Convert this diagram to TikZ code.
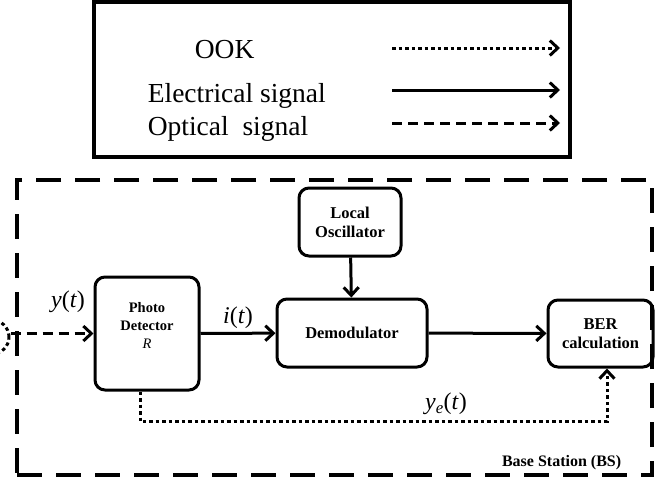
\documentclass[tikz,border=0pt]{standalone}
\usepackage{fontspec}
\setmainfont{Liberation Serif}
\usetikzlibrary{arrows.meta}

\begin{document}
\begin{tikzpicture}[x=1pt, y=-1pt, line width=3pt, >={Straight Barb[length=8pt,width=15pt,line width=3pt]},
  blk/.style={draw, rounded corners=10pt, align=center, inner sep=0pt, font=\bfseries\fontsize{16.5}{19}\selectfont},
  sig/.style={font=\fontsize{24}{26}\selectfont},
  ook/.style={dash pattern=on 3.5pt off 3pt},
  opt/.style={dash pattern=on 10pt off 6pt}]
  \useasboundingbox (0,0) rectangle (667,483);

  % legend
  \node[draw, line width=3.5pt, minimum width=476, minimum height=155] (legend) at (332, 79.5) {};
  \node[anchor=base west, font=\fontsize{27.5}{30}\selectfont] (ooktxt) at (190, 58) {OOK};
  \node[anchor=base west, font=\fontsize{27.5}{30}\selectfont] (eltxt)  at (143, 102) {Electrical signal};
  \node[anchor=base west, font=\fontsize{27.5}{30}\selectfont] (opttxt) at (143, 135) {Optical~ signal};
  \coordinate (ooks) at (392, 48);  \coordinate (ooke) at (560, 48);
  \coordinate (els)  at (392, 90);  \coordinate (ele)  at (560, 90);
  \coordinate (opts) at (392, 123); \coordinate (opte) at (560, 123);
  \draw[->, ook] (ooks) -- (ooke);
  \draw[->] (els) -- (ele);
  \draw[->, opt] (opts) -- (opte);

  % base station
  \node[draw, line width=4pt, dash pattern=on 25pt off 14pt, minimum width=635, minimum height=295] (bs) at (334.5, 327.5) {};
  \node[anchor=base east, font=\bfseries\fontsize{16}{18}\selectfont] (bslabel) at (626, 466) {Base Station (BS)};

  % source
  \node[draw, circle, ook, minimum size=34] (src) at (-8, 337) {};

  % blocks
  \node[blk, minimum width=104, minimum height=113,
    label={[align=center, font=\bfseries\fontsize{14.5}{18}\selectfont, yshift=8pt]center:{Photo\\Detector\\\normalfont\textit{R}}}] (pd) at (147, 333.5) {};
  \node[blk, minimum width=102, minimum height=68] (lo)  at (350, 222) {Local\\Oscillator};
  \node[blk, minimum width=150, minimum height=68] (dem) at (352, 333) {Demodulator};
  \node[blk, minimum width=105, minimum height=67] (ber) at (600.5, 333.5) {BER\\calculation};

  % signals
  \draw[->, opt] (pd.west -| src.east) -- (pd.west);
  \node[sig] (ytxt) at (68, 302) {\textit{y}(\textit{t})};
  \draw[->] (pd) -- node[sig, above] (itxt) {\textit{i}(\textit{t})} (dem);
  \draw[->] (lo) -- (dem);
  \draw[->] (dem) -- (ber);
  \draw[->, ook] ([xshift=-7pt]pd.south) -- ++(0, 30) -| ([xshift=6.5pt]ber.south);
  \node[sig] (yetxt) at (446, 404) {\textit{y}\textsubscript{\textit{e}}(\textit{t})};
\end{tikzpicture}
\end{document}
